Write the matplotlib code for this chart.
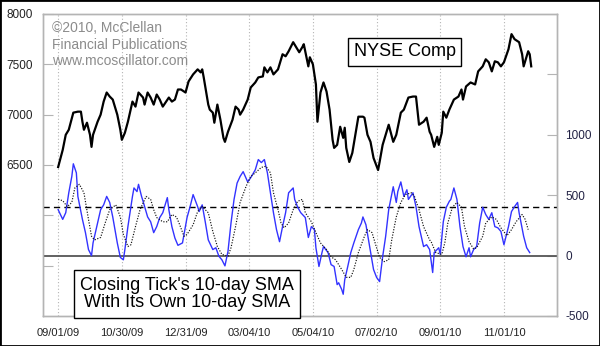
import matplotlib
matplotlib.use('Agg')
import matplotlib.pyplot as plt
from matplotlib.patches import Rectangle
from matplotlib.ticker import FixedLocator, FuncFormatter

# NYSE Composite (trading-day index, close)
NYSE_DAY = [0, 3, 5, 7, 10, 13, 15, 16, 17, 19, 21, 22, 23, 26, 28, 30, 32, 34, 36, 39,
            41, 42, 44, 46, 49, 51, 53, 56, 57, 59, 61, 63, 65, 67, 69, 73, 75, 77, 79, 81,
            84, 86, 89, 92, 94, 95, 96, 99, 100, 102, 103, 105, 107, 109, 110, 112, 115, 117, 119, 120,
            122, 125, 127, 130, 132, 135, 136, 138, 140, 142, 145, 147, 148, 150, 152, 155, 157, 159, 161, 162,
            165, 166, 168, 170, 171, 173, 175, 177, 179, 181, 182, 184, 186, 188, 189, 190, 192, 194, 196, 198,
            201, 202, 204, 206, 208, 211, 212, 214, 216, 218, 221, 223, 226, 228, 231, 234, 236, 238, 241, 243,
            245, 246, 248, 250, 251, 253, 254, 256, 258, 261, 264, 266, 267, 269, 272, 275, 277, 280, 282, 284,
            286, 288, 290, 292, 294, 297, 299, 301, 304, 306, 307, 310, 311, 312]
NYSE_CLOSE = [6480, 6650, 6800, 6850, 7020, 7030, 7030, 6930, 6850, 6920, 6800, 6680, 6800, 6930, 7000, 7130, 7220, 7180, 7150, 7000,
              6850, 6750, 6820, 6930, 7130, 7080, 7220, 7170, 7100, 7220, 7170, 7100, 7200, 7150, 7080, 7170, 7130, 7150, 7250, 7250,
              7220, 7330, 7400, 7450, 7420, 7450, 7370, 7100, 7050, 7020, 6920, 7100, 6950, 6770, 6730, 6830, 6950, 7080, 7050, 7000,
              7050, 7150, 7270, 7320, 7370, 7380, 7470, 7420, 7470, 7400, 7450, 7550, 7600, 7580, 7630, 7720, 7670, 7620, 7670, 7700,
              7480, 7570, 7500, 7300, 6930, 7220, 7320, 7230, 7050, 6750, 6670, 6700, 6880, 6770, 6870, 6670, 6530, 6620, 6800, 6980,
              6980, 6970, 6800, 6730, 6570, 6450, 6530, 6700, 6800, 6900, 6730, 6800, 7020, 7050, 7170, 7180, 7180, 6900, 6930, 6970,
              6830, 6800, 6680, 6780, 6700, 6820, 7030, 6970, 7050, 7150, 7180, 7250, 7150, 7280, 7320, 7300, 7430, 7480, 7550, 7520,
              7430, 7530, 7520, 7480, 7520, 7650, 7800, 7750, 7720, 7600, 7480, 7630, 7600, 7480]

# Closing Tick 10-day SMA
TICK_DAY = [0, 3, 5, 7, 9, 10, 12, 13, 16, 18, 20, 22, 23, 26, 28, 30, 32, 34, 36, 39,
            41, 43, 44, 46, 49, 50, 52, 53, 55, 56, 59, 61, 63, 65, 67, 69, 72, 73, 75, 77,
            79, 82, 85, 87, 89, 92, 93, 95, 97, 99, 102, 104, 106, 108, 110, 112, 114, 116, 118, 120,
            122, 125, 127, 130, 132, 134, 136, 138, 140, 142, 144, 146, 148, 150, 152, 155, 156, 158, 160, 163,
            165, 167, 169, 170, 172, 174, 175, 178, 180, 182, 184, 185, 187, 188, 189, 191, 193, 195, 198, 200,
            201, 203, 205, 208, 210, 212, 213, 214, 216, 218, 221, 223, 224, 226, 228, 230, 231, 234, 236, 238,
            241, 243, 245, 247, 248, 251, 252, 254, 256, 258, 259, 261, 263, 265, 267, 269, 271, 272, 274, 276,
            278, 280, 282, 284, 286, 288, 290, 292, 294, 297, 299, 301, 303, 304, 307, 309, 311]
TICK_SMA = [380, 300, 355, 520, 655, 760, 685, 490, 300, 190, 50, 0, 105, 270, 380, 420, 490, 440, 320, 105,
            -15, -35, 50, 240, 490, 560, 530, 590, 490, 450, 320, 280, 190, 240, 315, 355, 480, 380, 240, 145,
            85, 105, 315, 405, 505, 405, 365, 420, 280, 130, 50, 65, -5, -35, -85, 35, 270, 465, 600, 655,
            695, 610, 645, 710, 795, 770, 795, 685, 520, 355, 215, 115, 240, 355, 520, 560, 465, 400, 355, 315,
            150, 240, 215, 65, -90, 25, 75, 25, -75, -90, -240, -225, -280, -320, -200, -90, 25, 105, 215, 270,
            320, 255, 105, -115, -180, -215, -115, -10, 160, 380, 570, 440, 530, 610, 490, 545, 465, 520, 405, 240,
            75, 90, 50, -140, 25, 65, 10, 280, 400, 450, 465, 560, 465, 240, 75, -10, 65, -10, 50, 75,
            270, 400, 340, 300, 355, 240, 230, 200, 90, 240, 365, 405, 440, 355, 160, 65, 25]

# 10-day SMA of the Tick SMA
AVG_DAY = [0, 3, 6, 9, 11, 14, 17, 20, 22, 24, 28, 31, 34, 38, 41, 43, 46, 48, 51, 54,
           58, 61, 63, 65, 69, 72, 75, 78, 80, 83, 85, 89, 92, 95, 99, 102, 105, 108, 112, 114,
           117, 120, 124, 127, 130, 134, 137, 140, 142, 145, 147, 149, 152, 155, 158, 161, 163, 167, 170, 173,
           177, 180, 183, 187, 190, 193, 195, 198, 202, 204, 207, 210, 212, 215, 218, 220, 223, 226, 229, 233,
           235, 238, 241, 245, 246, 249, 253, 255, 257, 260, 263, 266, 268, 271, 274, 276, 280, 282, 286, 289,
           292, 296, 299, 302, 306, 308, 310]
AVG_SMA = [465, 455, 405, 440, 560, 590, 520, 300, 160, 130, 150, 270, 380, 420, 320, 175, 75, 90, 240, 380,
           490, 465, 380, 315, 280, 280, 340, 320, 260, 160, 175, 255, 365, 405, 355, 200, 75, 10, -5, 65,
           240, 440, 575, 655, 685, 730, 740, 685, 520, 380, 270, 230, 270, 380, 450, 465, 355, 280, 190, 105,
           50, -10, -35, -115, -180, -180, -115, 25, 160, 215, 190, 65, -15, -50, -35, 130, 320, 440, 505, 520,
           490, 380, 240, 130, 115, 25, 10, 105, 270, 400, 440, 400, 240, 115, 55, 65, 160, 270, 320, 300,
           230, 165, 215, 280, 340, 300, 215]

DATE_DAYS = [0, 42, 84, 126, 168, 210, 252, 294]
DATE_LABELS = ['09/01/09', '10/30/09', '12/31/09', '03/04/10', '05/04/10', '07/02/10', '09/01/10', '11/01/10']

W, H = 600, 346
FONT = ['Liberation Sans', 'DejaVu Sans']
GRAY = '#b4b4b4'


def fx(px):
    return px / W


def fy(py):
    return 1 - py / H


def buildChart():
    plt.rcParams['font.family'] = FONT
    fig = plt.figure(figsize=(W / 100, H / 100), dpi=100)
    ax = fig.add_axes([fx(43), fy(316), fx(557) - fx(43), fy(14) - fy(316)])
    ax2 = ax.twinx()

    ax.set_xlim(-10, 329)
    ax.set_ylim(5000, 8000)
    ax2.set_ylim(-500, 2000)

    # price on the left scale
    ax.plot(NYSE_DAY, NYSE_CLOSE, color='black', lw=1.6, solid_joinstyle='round')

    # oscillator on the right scale
    ax2.axhline(0, color='#555555', lw=1.3)
    ax2.axhline(400, color='black', lw=1.0, dashes=(4.5, 3))
    ax2.plot(TICK_DAY, TICK_SMA, color='#3333ff', lw=1.0)
    ax2.plot(AVG_DAY, AVG_SMA, color='#111111', lw=0.85, dashes=(1, 1.3))

    ax.xaxis.set_major_locator(FixedLocator(DATE_DAYS))
    ax.set_xticklabels(DATE_LABELS)
    ax.grid(True, axis='x', color=GRAY, ls=(0, (1, 2)), lw=0.8)
    ax.tick_params(axis='x', length=0, pad=9, labelsize=8, labelcolor='#222222')

    ax.yaxis.set_major_locator(FixedLocator([5500, 6000, 6500, 7000, 7500, 8000]))
    ax.yaxis.set_major_formatter(FuncFormatter(lambda v, p: '%d' % v if v >= 6500 else ''))
    ax.tick_params(axis='y', direction='in', length=7, color=GRAY, pad=7,
                   labelsize=8.5, labelcolor='#222222')

    ax2.yaxis.set_major_locator(FixedLocator([-500, 0, 500, 1000, 1500]))
    ax2.yaxis.set_major_formatter(FuncFormatter(lambda v, p: '%d' % v if v <= 1000 else ''))
    ax2.tick_params(axis='y', direction='in', length=7, color=GRAY, pad=6,
                    labelsize=8.5, labelcolor='#222244')

    for a in (ax, ax2):
        for s in a.spines.values():
            s.set_color(GRAY)
            s.set_linewidth(1.0)

    # watermark
    for py, line in zip([28, 45, 61], ['©2010, McClellan', 'Financial Publications', 'www.mcoscillator.com']):
        fig.text(fx(52), fy(py), line, fontsize=10, color='#8c8c8c', va='center', ha='left')

    box = dict(boxstyle='square,pad=0.3', facecolor='white', edgecolor='black', lw=1.0)
    fig.text(fx(404.5), fy(52), 'NYSE Comp', fontsize=13, ha='center', va='center', bbox=box)
    fig.text(fx(187), fy(294), "Closing Tick's 10-day SMA\nWith Its Own 10-day SMA",
             fontsize=13, ha='center', va='center', linespacing=1.05,
             bbox=dict(boxstyle='square,pad=0.35', facecolor='white', edgecolor='black', lw=1.0))

    fig.patches.append(Rectangle((0, 0), 1, 1, transform=fig.transFigure, fill=False,
                                 edgecolor='black', lw=2.0))
    return fig


def main():
    fig = buildChart()
    fig.savefig('out.png', dpi=100, facecolor='white')


if __name__ == '__main__':
    main()
